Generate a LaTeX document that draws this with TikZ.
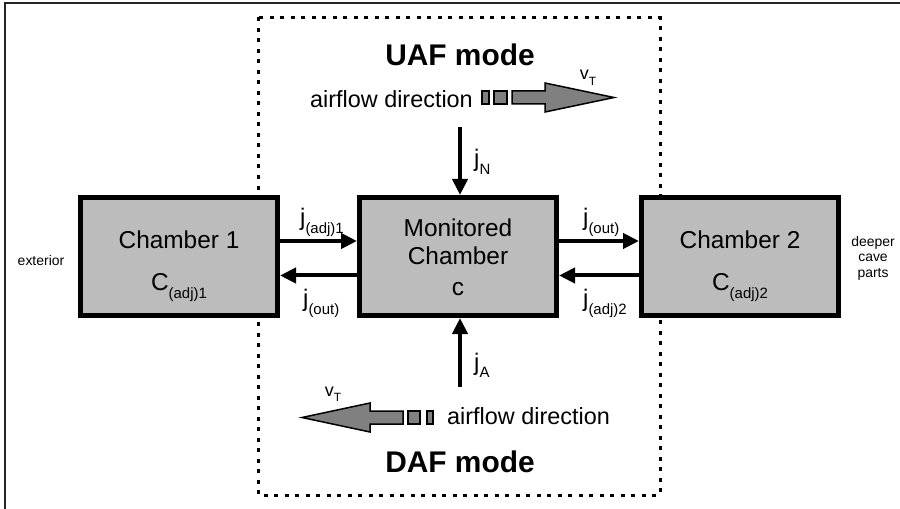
\documentclass[tikz,border=0pt]{standalone}
\usepackage{fontspec}
\setmainfont{Liberation Sans}
\usetikzlibrary{arrows.meta}
\definecolor{boxgray}{RGB}{188,188,188}
\definecolor{arrgray}{RGB}{128,128,128}
\newcommand\subtxt[1]{\raisebox{-0.3em}{\fontsize{15}{15}\selectfont #1}}
\newcommand\subtxtsm[1]{\raisebox{-0.3em}{\fontsize{12}{12}\selectfont #1}}
\begin{document}
\begin{tikzpicture}[x=1bp,y=-1bp,
  chamber/.style={draw=black,fill=boxgray,line width=5bp,minimum width=197bp,minimum height=118bp,inner sep=0pt},
  bigtxt/.style={font=\fontsize{24.5}{26}\selectfont,inner sep=0pt},
  jlab/.style={font=\fontsize{24}{24}\selectfont,inner sep=0pt},
  modetxt/.style={font=\fontsize{30}{30}\selectfont\bfseries,inner sep=0pt},
  airtxt/.style={font=\fontsize{23.5}{24}\selectfont,inner sep=0pt},
  sidetxt/.style={font=\fontsize{14}{15.5}\selectfont,inner sep=0pt,align=center},
  flow/.style={line width=4bp,-{Triangle[length=16bp,width=15bp]}},
  fat/.style={draw=black,fill=arrgray,line width=1.5bp,line join=miter},
  frame/.style={line width=1.5bp,draw=black!85},
  region/.style={line width=3bp,dash pattern=on 4bp off 6.5bp}
]
\useasboundingbox (0,0) rectangle (900,509);
% frame
\draw[frame] (5,509) -- (5,3) -- (900,3);
% dotted region
\draw[region] (258,17.5) rectangle (660,495);
% chambers
\node[chamber] (c1) at (179,256.5) {};
\node[chamber] (m) at (458,256.5) {};
\node[chamber] (c2) at (740,256.5) {};
\node[bigtxt] (c1a) at (179,240) {Chamber 1};
\node[bigtxt,anchor=base] (c1b) at (179,291) {C\subtxt{(adj)1}};
\node[bigtxt] (ma) at (458,228) {Monitored};
\node[bigtxt] (mb) at (458,256) {Chamber};
\node[bigtxt,anchor=base] (mc) at (458,296) {c};
\node[bigtxt] (c2a) at (740,240) {Chamber 2};
\node[bigtxt,anchor=base] (c2b) at (740,291) {C\subtxt{(adj)2}};
% side labels
\node[sidetxt] (ext) at (41,261) {exterior};
\node[sidetxt] (deep) at (873,258) {deeper\\cave\\parts};
% horizontal flows
\coordinate (u) at (0,241);
\coordinate (l) at (0,275.5);
\draw[flow] (c1.east |- u) -- (m.west |- u);
\draw[flow] (m.west |- l) -- (c1.east |- l);
\draw[flow] (m.east |- u) -- (c2.west |- u);
\draw[flow] (c2.west |- l) -- (m.east |- l);
\node[jlab,anchor=base west] (j1) at (300,226) {j\subtxt{(adj)1}};
\node[jlab,anchor=base west] (j2) at (303,307) {j\subtxt{(out)}};
\node[jlab,anchor=base west] (j3) at (583,226) {j\subtxt{(out)}};
\node[jlab,anchor=base west] (j4) at (583,307) {j\subtxt{(adj)2}};
% vertical flows
\coordinate (jn) at (460,127);
\coordinate (ja) at (460,387);
\draw[flow] (jn) -- (jn |- m.north);
\draw[flow] (ja) -- (ja |- m.south);
\node[jlab,anchor=base west] (jnl) at (474,167) {j\subtxt{N}};
\node[jlab,anchor=base west] (jal) at (474,370) {j\subtxt{A}};
% modes
\node[modetxt] (uaf) at (460,55) {UAF mode};
\node[modetxt] (daf) at (460,462) {DAF mode};
% top airflow
\node[airtxt,anchor=east] (air1) at (473,99) {airflow direction};
\draw[fat] (482,91) rectangle (489,104);
\draw[fat] (494,91) rectangle (507,104);
\draw[fat] (512,91) -- (545,91) -- (545,83) -- (614,97.5) -- (545,112) -- (545,104) -- (512,104) -- cycle;
\node[font=\fontsize{18}{18}\selectfont,inner sep=0pt,anchor=base] (vt1) at (588,80) {v\subtxtsm{T}};
% bottom airflow
\node[airtxt,anchor=west] (air2) at (447,416) {airflow direction};
\draw[fat] (427,411) rectangle (433,424);
\draw[fat] (408,411) rectangle (420,424);
\draw[fat] (403,411) -- (370,411) -- (370,403) -- (302,417.5) -- (370,432) -- (370,424) -- (403,424) -- cycle;
\node[font=\fontsize{18}{18}\selectfont,inner sep=0pt,anchor=base] (vt2) at (333,396) {v\subtxtsm{T}};
\end{tikzpicture}
\end{document}
